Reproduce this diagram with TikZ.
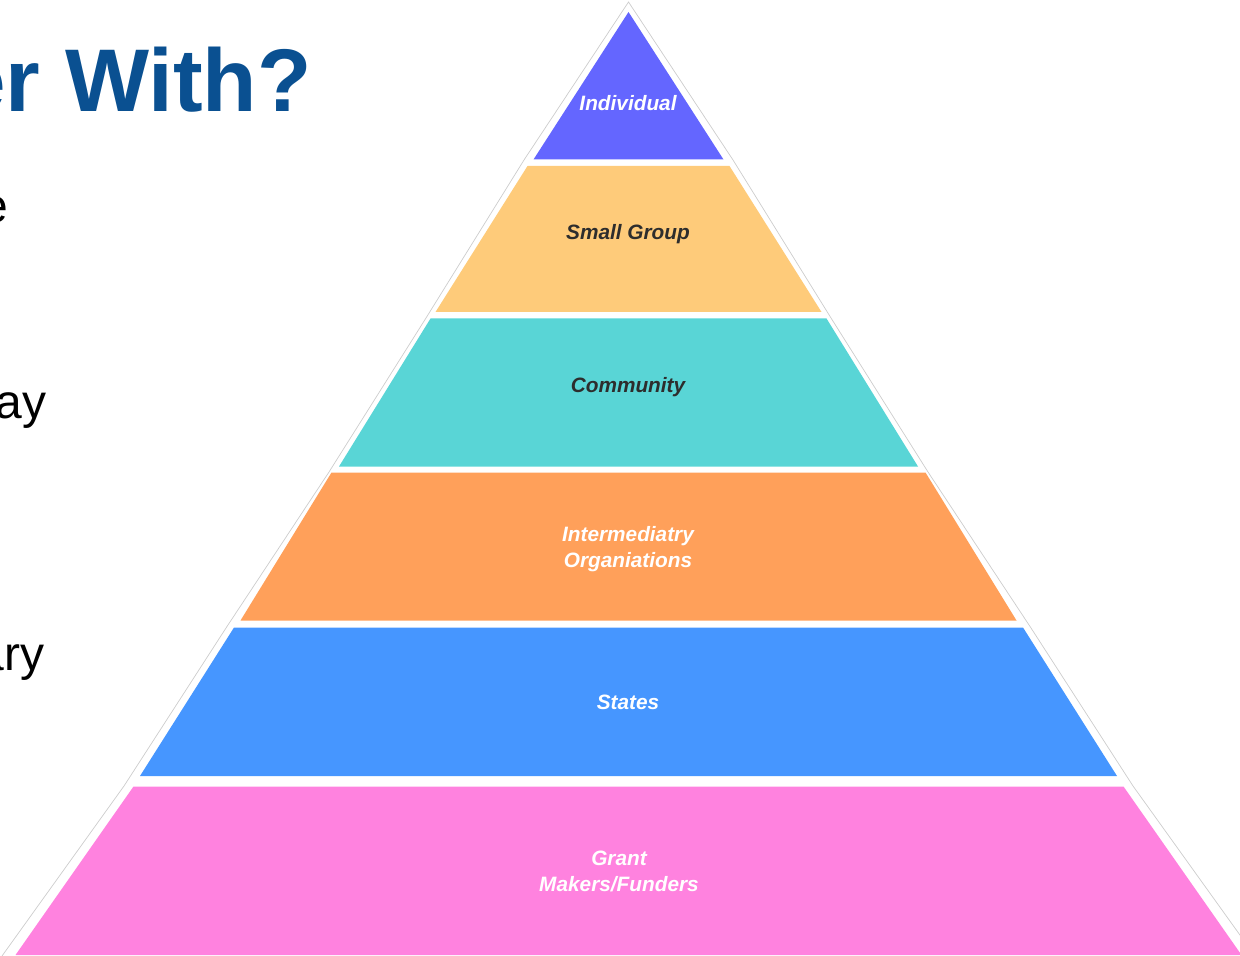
\documentclass[tikz,border=0pt]{standalone}
\usepackage{fontspec}
\setmainfont{Liberation Sans}
\definecolor{headblue}{RGB}{10,80,145}
\definecolor{cIndividual}{RGB}{100,102,255}
\definecolor{cSmall}{RGB}{254,203,122}
\definecolor{cCommunity}{RGB}{89,213,214}
\definecolor{cInter}{RGB}{255,160,90}
\definecolor{cStates}{RGB}{70,150,255}
\definecolor{cGrant}{RGB}{255,130,223}
\definecolor{darktext}{RGB}{45,45,45}
\begin{document}
\begin{tikzpicture}[x=0.5pt,y=-0.5pt,
  lab/.style={font=\bfseries\itshape\fontsize{10.4}{13}\selectfont, align=center, inner sep=0pt},
  body/.style={font=\fontsize{24}{28}\selectfont, anchor=base east, inner sep=0pt},
  rim/.style={draw=black!20, line width=0.35pt}]
\useasboundingbox (0,0) rectangle (1240,956);
\clip (0,0) rectangle (1240,956);

% faint outline around the pyramid
\draw[rim] (2,956) -- (124,786) -- (226,628) -- (329,472) -- (426,318) -- (524,160)
  -- (628.5,2) -- (733,160) -- (831,318) -- (928,472) -- (1031,628) -- (1133,786) -- (1255,956);

% pyramid layers, top to bottom
\fill[cIndividual] (628.5,12) -- (723.5,159.5) -- (533.5,159.5) -- cycle;
\fill[cSmall] (527.5,166) -- (729.5,166) -- (821.5,312) -- (435.5,312) -- cycle;
\fill[cCommunity] (430.5,318.5) -- (826.5,318.5) -- (918,466.5) -- (339,466.5) -- cycle;
\fill[cInter] (331.5,472.5) -- (925.5,472.5) -- (1016.5,620.5) -- (240.5,620.5) -- cycle;
\fill[cStates] (234,627.5) -- (1023,627.5) -- (1117,776) -- (140,776) -- cycle;
\fill[cGrant] (133.5,786.5) -- (1123.5,786.5) -- (1241.5,955) -- (15.5,955) -- cycle;

% layer labels
\node[lab, text=white] (individual) at (628,103.5) {Individual};
\node[lab, text=darktext] (smallgroup) at (628,234.5) {Small Group};
\node[lab, text=darktext] (community) at (628,387.5) {Community};
\node[lab, text=white] (intermediary) at (628,549.5) {Intermediatry\\Organiations};
\node[lab, text=white] (states) at (628,702.5) {States};
\node[lab, text=white] (grant) at (619,871.5) {Grant\\Makers/Funders};

% heading and body text on the left
\node[anchor=base east, inner sep=0pt, text=headblue,
  font=\bfseries\fontsize{44.5}{50}\selectfont] (title) at (312,112) {er With?};
\node[body] (line1) at (9,223) {e};
\node[body] (line2) at (47,418) {ay};
\node[body] (line3) at (45,670) {ary};
\end{tikzpicture}
\end{document}
